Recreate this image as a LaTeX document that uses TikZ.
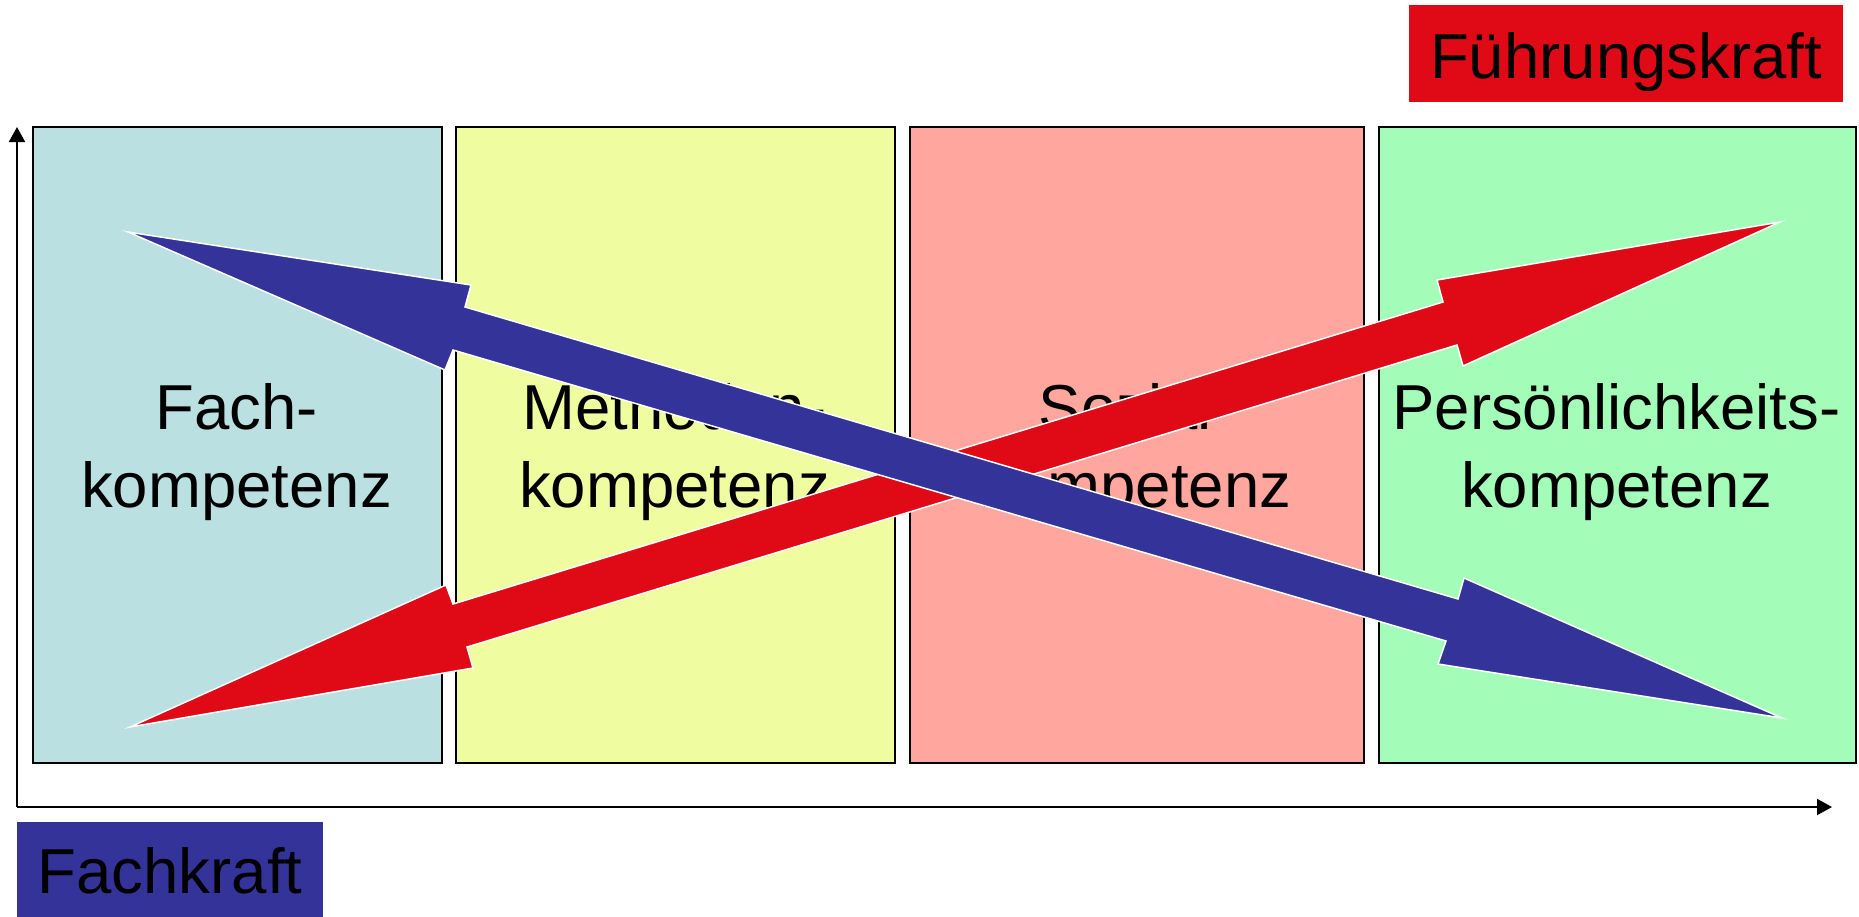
\documentclass[tikz,border=0pt]{standalone}
\usepackage{fontspec}
\setmainfont{Liberation Sans}
\usetikzlibrary{arrows.meta}
\definecolor{cbox1}{RGB}{186,224,226}
\definecolor{cbox2}{RGB}{239,252,160}
\definecolor{cbox3}{RGB}{255,166,158}
\definecolor{cbox4}{RGB}{163,253,185}
\definecolor{cred}{RGB}{224,10,23}
\definecolor{cblue}{RGB}{52,51,153}
\begin{document}
\begin{tikzpicture}[x=1pt,y=-1pt,
  box/.style={draw=black,line width=2pt,anchor=north west,inner sep=0pt},
  lbl/.style={anchor=base,inner sep=0pt,text=black,font=\fontsize{63.5}{78}\selectfont},
  tag/.style={anchor=north west,inner sep=0pt,draw=none},
  axis/.style={line width=2pt,-{Triangle[length=15pt,width=16pt]}},
  fat/.style={draw=white,line width=1.5pt,line join=miter}]
\useasboundingbox (0,0) rectangle (1859,916);
% boxes
\node[box,fill=cbox1,minimum width=409pt,minimum height=636pt] (b1) at (32,126) {};
\node[box,fill=cbox2,minimum width=439pt,minimum height=636pt] (b2) at (455,126) {};
\node[box,fill=cbox3,minimum width=454pt,minimum height=636pt] (b3) at (909,126) {};
\node[box,fill=cbox4,minimum width=477pt,minimum height=636pt] (b4) at (1378,126) {};
% texts
\node[lbl] (t1a) at (236.5,429) {Fach-};
\node[lbl] (t1b) at (236.5,507) {kompetenz};
\node[lbl] (t2a) at (674.5,429) {Methoden-};
\node[lbl] (t2b) at (674.5,507) {kompetenz};
\node[lbl] (t3a) at (1136,429) {Sozial-};
\node[lbl] (t3b) at (1136,507) {kompetenz};
\node[lbl] (t4a) at (1616.5,429) {Persönlichkeits-};
\node[lbl] (t4b) at (1616.5,507) {kompetenz};
% axes
\coordinate (O) at (17,807);
\coordinate (ytop) at (17,127);
\coordinate (xend) at (1832,807);
\draw[axis] (O) -- (ytop);
\draw[axis] (O) -- (xend);
% tags
\node[tag,fill=cred,minimum width=434pt,minimum height=97pt] (fk) at (1409,5) {};
\node[lbl] (fkt) at (1626,78) {Führungskraft};
\node[tag,fill=cblue,minimum width=306pt,minimum height=96pt] (fa) at (17,822) {};
\node[lbl] (fat) at (170,893) {Fachkraft};
% red arrow
\fill[cred,fat] (130,727) -- (446,585) -- (453,604) -- (1443,302) -- (1437,280) -- (1780,222)
  -- (1463,366) -- (1457,345) -- (467,647) -- (473,668) -- cycle;
% blue arrow
\fill[cblue,fat] (128,232) -- (471,285) -- (465,307) -- (1458,599) -- (1464,578) -- (1782,718)
  -- (1438,664) -- (1446,641) -- (453,350) -- (445,370) -- cycle;
\end{tikzpicture}
\end{document}
